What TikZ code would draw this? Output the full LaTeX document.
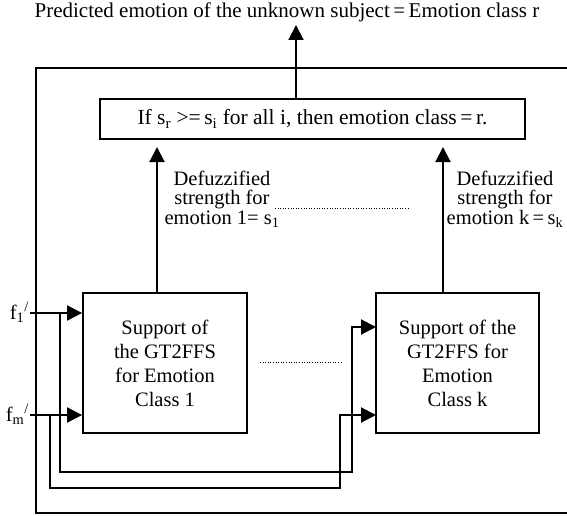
\documentclass[tikz,border=0pt]{standalone}
\usepackage{fontspec}
\setmainfont{Liberation Serif}
\usetikzlibrary{arrows.meta}
\begin{document}
\begin{tikzpicture}[x=1pt,y=-1pt,
  line/.style={line width=2pt},
  arr/.style={line width=2pt,-{Triangle[length=15pt,width=15pt]}},
  blk/.style={draw,line width=1.8pt,inner sep=0pt,align=center,font=\fontsize{20.5}{24}\selectfont},
  txt/.style={font=\fontsize{20.5}{24}\selectfont,inner sep=0pt},
  lab/.style={font=\fontsize{20.5}{19.5}\selectfont,align=center,inner sep=0pt},
  dots/.style={line width=1pt,dash pattern=on 1pt off 1.6pt}]
\useasboundingbox (0,0) rectangle (567,516);

% title
\node[txt,font=\fontsize{21}{24}\selectfont,anchor=base] (title) at (287,18) {Predicted emotion of the unknown subject\,=\,Emotion class r};

% decision box
\node[blk,font=\fontsize{21.5}{24}\selectfont,minimum width=425pt,minimum height=40pt] (dec) at (312.5,119)
  {If s\textsubscript{r} >=\,s\textsubscript{i} for all i, then emotion class\,=\,r.};

% support boxes
\node[blk,minimum width=164pt,minimum height=140pt] (b1) at (165,363)
  {Support of\\the GT2FFS\\for Emotion\\Class 1};
\node[blk,minimum width=163pt,minimum height=140pt] (bk) at (457.5,363)
  {Support of the\\GT2FFS for\\Emotion\\Class k};

% outer loop
\coordinate (oTR) at (567,68);
\coordinate (oTL) at (36,68);
\coordinate (oBL) at (36,513);
\coordinate (oBR) at (567,513);
\draw[line] (oTR) -- (oTL) -- (oBL) -- (oBR);

% output arrows
\coordinate (tipT) at (296,25);
\coordinate (tip1) at (157,147);
\coordinate (tipk) at (443,147);
\draw[arr] (dec.north -| tipT) -- (tipT);
\draw[arr] (b1.north -| tip1) -- (tip1);
\draw[arr] (bk.north -| tipk) -- (tipk);

% labels
\node[lab] (l1) at (222,199) {Defuzzified\\strength for\\emotion 1= s\textsubscript{1}};
\node[lab] (lk) at (505,199) {Defuzzified\\strength for\\emotion k\,=\,s\textsubscript{k}};

% dotted lines
\coordinate (d1a) at (275,208);
\coordinate (d1b) at (408,208);
\coordinate (d2a) at (260,362);
\coordinate (d2b) at (343,362);
\draw[dots] (d1a) -- (d1b);
\draw[dots] (d2a) -- (d2b);

% inputs
\node[txt,anchor=base east] (f1) at (29,319) {f\textsubscript{1}\textsuperscript{/}};
\node[txt,anchor=base east] (fm) at (29,421) {f\textsubscript{m}\textsuperscript{/}};
\coordinate (f1s) at (30,313);
\coordinate (fms) at (30,415);
\draw[arr] (f1s) -- (b1.west |- f1s);
\draw[arr] (fms) -- (b1.west |- fms);

\coordinate (j1) at (60,313);
\coordinate (c1) at (352,472);
\coordinate (in1k) at (376,327);
\draw[arr] (j1) |- (c1) |- (in1k);

\coordinate (j2) at (50,415);
\coordinate (c2) at (340,488);
\coordinate (in2k) at (376,415);
\draw[arr] (j2) |- (c2) |- (in2k);
\end{tikzpicture}
\end{document}
